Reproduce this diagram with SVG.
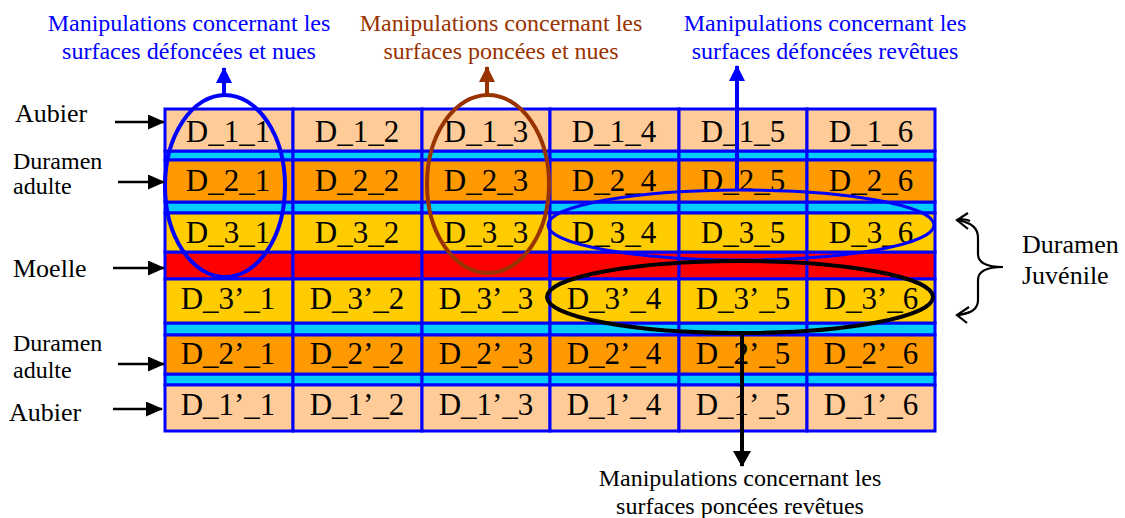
<svg xmlns="http://www.w3.org/2000/svg" width="1125" height="518" viewBox="0 0 1125 518">
<style>
  .c{stroke:#0000FF;stroke-width:3}
  .peach{fill:#FFCC99}
  .orange{fill:#FF9900}
  .yellow{fill:#FFCC00}
  .red{fill:#FF0000}
  .cyan{fill:#00CCFF}
  .t{font-family:"Liberation Serif","Times New Roman",serif;font-size:31px;fill:#000;text-anchor:middle}
  .lab{font-family:"Liberation Serif","Times New Roman",serif;fill:#000}
  .top{font-family:"Liberation Serif","Times New Roman",serif;font-size:24px;text-anchor:middle}
</style>
<defs>
  <marker id="ak" markerUnits="userSpaceOnUse" markerWidth="17" markerHeight="15" refX="16" refY="7.5" orient="auto"><path d="M0,0 L17,7.5 L0,15 z" fill="#000"/></marker>
  <marker id="ab" markerUnits="userSpaceOnUse" markerWidth="16" markerHeight="16" refX="15" refY="8" orient="auto"><path d="M0,0 L16,8 L0,16 z" fill="#0000FF"/></marker>
  <marker id="abr" markerUnits="userSpaceOnUse" markerWidth="16" markerHeight="16" refX="15" refY="8" orient="auto"><path d="M0,0 L16,8 L0,16 z" fill="#993300"/></marker>
  <marker id="akd" markerUnits="userSpaceOnUse" markerWidth="16" markerHeight="18" refX="15" refY="9" orient="auto"><path d="M0,0 L16,9 L0,18 z" fill="#000"/></marker>
</defs>

<!-- strips -->
<g id="strips">
  <g id="cyan_1"><rect class="c cyan" x="165" y="151" width="128" height="9"/><rect class="c cyan" x="293" y="151" width="129" height="9"/><rect class="c cyan" x="422" y="151" width="128" height="9"/><rect class="c cyan" x="550" y="151" width="129" height="9"/><rect class="c cyan" x="679" y="151" width="128" height="9"/><rect class="c cyan" x="807" y="151" width="128" height="9"/></g>
  <g id="cyan_2"><rect class="c cyan" x="165" y="202" width="128" height="11"/><rect class="c cyan" x="293" y="202" width="129" height="11"/><rect class="c cyan" x="422" y="202" width="128" height="11"/><rect class="c cyan" x="550" y="202" width="129" height="11"/><rect class="c cyan" x="679" y="202" width="128" height="11"/><rect class="c cyan" x="807" y="202" width="128" height="11"/></g>
  <g id="moelle_row"><rect class="c red" x="165" y="252" width="128" height="27"/><rect class="c red" x="293" y="252" width="129" height="27"/><rect class="c red" x="422" y="252" width="128" height="27"/><rect class="c red" x="550" y="252" width="129" height="27"/><rect class="c red" x="679" y="252" width="128" height="27"/><rect class="c red" x="807" y="252" width="128" height="27"/></g>
  <g id="cyan_3"><rect class="c cyan" x="165" y="323" width="128" height="12"/><rect class="c cyan" x="293" y="323" width="129" height="12"/><rect class="c cyan" x="422" y="323" width="128" height="12"/><rect class="c cyan" x="550" y="323" width="129" height="12"/><rect class="c cyan" x="679" y="323" width="128" height="12"/><rect class="c cyan" x="807" y="323" width="128" height="12"/></g>
  <g id="cyan_4"><rect class="c cyan" x="165" y="374" width="128" height="11"/><rect class="c cyan" x="293" y="374" width="129" height="11"/><rect class="c cyan" x="422" y="374" width="128" height="11"/><rect class="c cyan" x="550" y="374" width="129" height="11"/><rect class="c cyan" x="679" y="374" width="128" height="11"/><rect class="c cyan" x="807" y="374" width="128" height="11"/></g>
</g>

<!-- row 1 -->
<g id="D_1_1"><rect class="c peach" x="165" y="109" width="128" height="42"/><text class="t" x="228" y="142">D_1_1</text></g>
<g id="D_1_2"><rect class="c peach" x="293" y="109" width="129" height="42"/><text class="t" x="357" y="142">D_1_2</text></g>
<g id="D_1_3"><rect class="c peach" x="422" y="109" width="128" height="42"/><text class="t" x="486" y="142">D_1_3</text></g>
<g id="D_1_4"><rect class="c peach" x="550" y="109" width="129" height="42"/><text class="t" x="614" y="142">D_1_4</text></g>
<g id="D_1_5"><rect class="c peach" x="679" y="109" width="128" height="42"/><text class="t" x="743" y="142">D_1_5</text></g>
<g id="D_1_6"><rect class="c peach" x="807" y="109" width="128" height="42"/><text class="t" x="871" y="142">D_1_6</text></g>
<!-- row 2 -->
<g id="D_2_1"><rect class="c orange" x="165" y="160" width="128" height="42"/><text class="t" x="228" y="191">D_2_1</text></g>
<g id="D_2_2"><rect class="c orange" x="293" y="160" width="129" height="42"/><text class="t" x="357" y="191">D_2_2</text></g>
<g id="D_2_3"><rect class="c orange" x="422" y="160" width="128" height="42"/><text class="t" x="486" y="191">D_2_3</text></g>
<g id="D_2_4"><rect class="c orange" x="550" y="160" width="129" height="42"/><text class="t" x="614" y="191">D_2_4</text></g>
<g id="D_2_5"><rect class="c orange" x="679" y="160" width="128" height="42"/><text class="t" x="743" y="191">D_2_5</text></g>
<g id="D_2_6"><rect class="c orange" x="807" y="160" width="128" height="42"/><text class="t" x="871" y="191">D_2_6</text></g>
<!-- row 3 -->
<g id="D_3_1"><rect class="c yellow" x="165" y="213" width="128" height="39"/><text class="t" x="228" y="243">D_3_1</text></g>
<g id="D_3_2"><rect class="c yellow" x="293" y="213" width="129" height="39"/><text class="t" x="357" y="243">D_3_2</text></g>
<g id="D_3_3"><rect class="c yellow" x="422" y="213" width="128" height="39"/><text class="t" x="486" y="243">D_3_3</text></g>
<g id="D_3_4"><rect class="c yellow" x="550" y="213" width="129" height="39"/><text class="t" x="614" y="243">D_3_4</text></g>
<g id="D_3_5"><rect class="c yellow" x="679" y="213" width="128" height="39"/><text class="t" x="743" y="243">D_3_5</text></g>
<g id="D_3_6"><rect class="c yellow" x="807" y="213" width="128" height="39"/><text class="t" x="871" y="243">D_3_6</text></g>
<!-- row 3' -->
<g id="D_3p_1"><rect class="c yellow" x="165" y="279" width="128" height="44"/><text class="t" x="228" y="309">D_3’_1</text></g>
<g id="D_3p_2"><rect class="c yellow" x="293" y="279" width="129" height="44"/><text class="t" x="357" y="309">D_3’_2</text></g>
<g id="D_3p_3"><rect class="c yellow" x="422" y="279" width="128" height="44"/><text class="t" x="486" y="309">D_3’_3</text></g>
<g id="D_3p_4"><rect class="c yellow" x="550" y="279" width="129" height="44"/><text class="t" x="614" y="309">D_3’_4</text></g>
<g id="D_3p_5"><rect class="c yellow" x="679" y="279" width="128" height="44"/><text class="t" x="743" y="309">D_3’_5</text></g>
<g id="D_3p_6"><rect class="c yellow" x="807" y="279" width="128" height="44"/><text class="t" x="871" y="309">D_3’_6</text></g>
<!-- row 2' -->
<g id="D_2p_1"><rect class="c orange" x="165" y="335" width="128" height="39"/><text class="t" x="228" y="364">D_2’_1</text></g>
<g id="D_2p_2"><rect class="c orange" x="293" y="335" width="129" height="39"/><text class="t" x="357" y="364">D_2’_2</text></g>
<g id="D_2p_3"><rect class="c orange" x="422" y="335" width="128" height="39"/><text class="t" x="486" y="364">D_2’_3</text></g>
<g id="D_2p_4"><rect class="c orange" x="550" y="335" width="129" height="39"/><text class="t" x="614" y="364">D_2’_4</text></g>
<g id="D_2p_5"><rect class="c orange" x="679" y="335" width="128" height="39"/><text class="t" x="743" y="364">D_2’_5</text></g>
<g id="D_2p_6"><rect class="c orange" x="807" y="335" width="128" height="39"/><text class="t" x="871" y="364">D_2’_6</text></g>
<!-- row 1' -->
<g id="D_1p_1"><rect class="c peach" x="165" y="385" width="128" height="46"/><text class="t" x="228" y="415">D_1’_1</text></g>
<g id="D_1p_2"><rect class="c peach" x="293" y="385" width="129" height="46"/><text class="t" x="357" y="415">D_1’_2</text></g>
<g id="D_1p_3"><rect class="c peach" x="422" y="385" width="128" height="46"/><text class="t" x="486" y="415">D_1’_3</text></g>
<g id="D_1p_4"><rect class="c peach" x="550" y="385" width="129" height="46"/><text class="t" x="614" y="415">D_1’_4</text></g>
<g id="D_1p_5"><rect class="c peach" x="679" y="385" width="128" height="46"/><text class="t" x="743" y="415">D_1’_5</text></g>
<g id="D_1p_6"><rect class="c peach" x="807" y="385" width="128" height="46"/><text class="t" x="871" y="415">D_1’_6</text></g>

<!-- left labels -->
<g id="lbl_aubier_top"><text class="lab" x="15" y="122" font-size="26">Aubier</text></g>
<g id="lbl_duramen_top"><text class="lab" x="13" y="169" font-size="24">Duramen</text><text class="lab" x="13" y="194" font-size="24">adulte</text></g>
<g id="lbl_moelle"><text class="lab" x="13" y="277" font-size="26">Moelle</text></g>
<g id="lbl_duramen_bot"><text class="lab" x="13" y="351" font-size="24">Duramen</text><text class="lab" x="13" y="378" font-size="24">adulte</text></g>
<g id="lbl_aubier_bot"><text class="lab" x="9" y="421" font-size="26">Aubier</text></g>
<g id="lbl_juvenile"><text class="lab" x="1022" y="253" font-size="26">Duramen</text><text class="lab" x="1022" y="284" font-size="26">Juvénile</text></g>

<!-- top / bottom labels -->
<g id="lbl_def_nues"><text class="top" fill="#0000FF" x="189" y="31">Manipulations concernant les</text><text class="top" fill="#0000FF" x="189" y="59">surfaces défoncées et nues</text></g>
<g id="lbl_pon_nues"><text class="top" fill="#993300" x="501" y="31">Manipulations concernant les</text><text class="top" fill="#993300" x="501" y="59">surfaces poncées et nues</text></g>
<g id="lbl_def_rev"><text class="top" fill="#0000FF" x="825" y="31">Manipulations concernant les</text><text class="top" fill="#0000FF" x="825" y="59">surfaces défoncées revêtues</text></g>
<g id="lbl_pon_rev"><text class="top" fill="#000" font-size="26.5" x="740" y="486">Manipulations concernant les</text><text class="top" fill="#000" font-size="26" x="740" y="514">surfaces poncées revêtues</text></g>

<!-- groupings (ellipses) -->
<g id="groups" fill="none">
  <ellipse cx="225" cy="186" rx="60" ry="91" stroke="#0000FF" stroke-width="4"/>
  <ellipse cx="488" cy="184" rx="61" ry="89" stroke="#993300" stroke-width="4"/>
  <ellipse cx="741" cy="225" rx="193" ry="35" stroke="#0000FF" stroke-width="3"/>
  <ellipse cx="740" cy="297" rx="193" ry="36" stroke="#000" stroke-width="4"/>
</g>

<!-- connectors -->
<g id="connectors" fill="none">
  <line x1="115" y1="122" x2="164" y2="122" stroke="#000" stroke-width="2.5" marker-end="url(#ak)"/>
  <line x1="118" y1="182" x2="164" y2="182" stroke="#000" stroke-width="2.5" marker-end="url(#ak)"/>
  <line x1="113" y1="268" x2="164" y2="268" stroke="#000" stroke-width="2.5" marker-end="url(#ak)"/>
  <line x1="118" y1="364" x2="164" y2="364" stroke="#000" stroke-width="2.5" marker-end="url(#ak)"/>
  <line x1="113" y1="409" x2="162" y2="409" stroke="#000" stroke-width="2.5" marker-end="url(#ak)"/>
  <line x1="224" y1="95" x2="224" y2="68" stroke="#0000FF" stroke-width="4" marker-end="url(#ab)"/>
  <line x1="487" y1="95" x2="487" y2="67" stroke="#993300" stroke-width="4" marker-end="url(#abr)"/>
  <line x1="737" y1="190" x2="737" y2="66" stroke="#0000FF" stroke-width="4" marker-end="url(#ab)"/>
  <line x1="742" y1="333" x2="742" y2="466" stroke="#000" stroke-width="4" marker-end="url(#akd)"/>
  <path d="M958,220 C972,223 978,228 978,238 L978,254 C978,263 986,267 1003,267 C986,267 978,271 978,280 L978,300 C978,309 972,313 958,315" stroke="#000" stroke-width="2.2"/>
  <path d="M968,213 L957,220 L968,229 M957,220 C962,219 966,219 970,221" stroke="#000" stroke-width="2.2"/>
  <path d="M969,307 L957,315 L967,323 M957,315 C962,315 966,314 970,312" stroke="#000" stroke-width="2.2"/>
</g>
</svg>
